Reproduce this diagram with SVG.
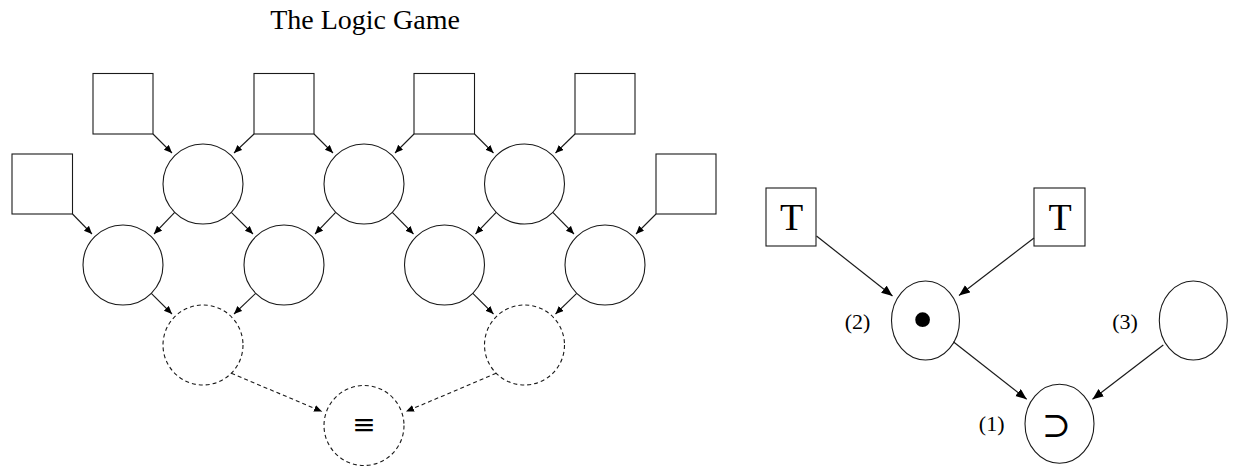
<svg xmlns="http://www.w3.org/2000/svg" width="1235" height="468" viewBox="0 0 1235 468">
<style>
.n{fill:none;stroke:#1a1a1a;stroke-width:1.1}
.d{fill:none;stroke:#1a1a1a;stroke-width:1.1;stroke-dasharray:4 3}
.e{stroke:#1a1a1a;stroke-width:1.1;fill:none;marker-end:url(#ah)}
.ed{stroke:#1a1a1a;stroke-width:1.1;fill:none;stroke-dasharray:4 3;marker-end:url(#ah)}
.eL{stroke:#1a1a1a;stroke-width:1.2;fill:none;marker-end:url(#ahL)}
.t{font-family:"Liberation Serif","DejaVu Serif",serif;fill:#000}
.s{font-family:"DejaVu Serif","Liberation Serif",serif;fill:#000}
</style>
<defs>
<marker id="ah" markerUnits="userSpaceOnUse" markerWidth="10" markerHeight="9" refX="8" refY="3.5" orient="auto"><path d="M0,0 L8,3.5 L0,7 Z" fill="#000"/></marker>
<marker id="ahL" markerUnits="userSpaceOnUse" markerWidth="13" markerHeight="11" refX="11" refY="4.5" orient="auto"><path d="M0,0 L11,4.5 L0,9 Z" fill="#000"/></marker>
</defs>
<rect width="1235" height="468" fill="#fff"/>
<text class="t" x="365" y="29" font-size="28" text-anchor="middle">The Logic Game</text>

<g id="sq1"><rect class="n" x="93" y="73.5" width="60" height="60.5"/></g>
<g id="sq2"><rect class="n" x="254" y="73.5" width="60" height="60.5"/></g>
<g id="sq3"><rect class="n" x="414" y="73.5" width="60.5" height="60.5"/></g>
<g id="sq4"><rect class="n" x="575" y="73.5" width="60" height="60.5"/></g>
<g id="sqL"><rect class="n" x="12" y="154" width="60.5" height="60"/></g>
<g id="sqR"><rect class="n" x="656" y="154" width="60" height="60"/></g>

<g id="c11"><circle class="n" cx="203" cy="184" r="40"/></g>
<g id="c12"><circle class="n" cx="364" cy="184" r="40"/></g>
<g id="c13"><circle class="n" cx="524.5" cy="184" r="40"/></g>
<g id="c21"><circle class="n" cx="123" cy="265" r="40"/></g>
<g id="c22"><circle class="n" cx="284" cy="265" r="40"/></g>
<g id="c23"><circle class="n" cx="444.5" cy="265" r="40"/></g>
<g id="c24"><circle class="n" cx="605" cy="265" r="40"/></g>
<g id="dc1"><circle class="d" cx="203" cy="345" r="40"/></g>
<g id="dc2"><circle class="d" cx="524.5" cy="345" r="40"/></g>
<g id="eqv"><circle class="d" cx="364" cy="425.5" r="40"/><text class="s" x="364" y="434" font-size="28" text-anchor="middle">≡</text></g>

<g id="rT1"><rect class="n" x="766" y="188" width="50" height="58"/><text class="t" x="791.5" y="230" font-size="38" text-anchor="middle">T</text></g>
<g id="rT2"><rect class="n" x="1034" y="188" width="51" height="58"/><text class="t" x="1060" y="230" font-size="38" text-anchor="middle">T</text></g>
<g id="r2"><ellipse class="n" cx="925.5" cy="320.5" rx="34" ry="39.5"/><text class="t" x="922.5" y="340" font-size="62" text-anchor="middle">•</text><text class="t" x="857.5" y="329" font-size="22" text-anchor="middle">(2)</text></g>
<g id="r3"><ellipse class="n" cx="1193.3" cy="320.5" rx="34" ry="39.5"/><text class="t" x="1125" y="329" font-size="22" text-anchor="middle">(3)</text></g>
<g id="r1"><ellipse class="n" cx="1059.5" cy="423.8" rx="34.5" ry="39.5"/><text class="s" x="1056.5" y="437" font-size="35" text-anchor="middle">⊃</text><text class="t" x="991.7" y="431" font-size="22" text-anchor="middle">(1)</text></g>

<g id="connectors">
<line class="e" x1="153" y1="134" x2="172" y2="153"/>
<line class="e" x1="254" y1="134" x2="234" y2="153"/>
<line class="e" x1="314" y1="134" x2="333" y2="153"/>
<line class="e" x1="414" y1="134" x2="395" y2="153"/>
<line class="e" x1="474.5" y1="134" x2="493.5" y2="153"/>
<line class="e" x1="575" y1="134" x2="555.5" y2="153"/>
<line class="e" x1="72.5" y1="214" x2="92" y2="234"/>
<line class="e" x1="656" y1="214" x2="636" y2="234"/>
<line class="e" x1="174.7" y1="212.3" x2="154" y2="234"/>
<line class="e" x1="231.3" y1="212.3" x2="253" y2="234"/>
<line class="e" x1="335.7" y1="212.3" x2="315" y2="234"/>
<line class="e" x1="392.3" y1="212.3" x2="413.5" y2="234"/>
<line class="e" x1="496.2" y1="212.3" x2="475.5" y2="234"/>
<line class="e" x1="552.8" y1="212.3" x2="574" y2="234"/>
<line class="e" x1="151.3" y1="293.3" x2="172" y2="314"/>
<line class="e" x1="255.7" y1="293.3" x2="234" y2="314"/>
<line class="e" x1="472.8" y1="293.3" x2="493.5" y2="314"/>
<line class="e" x1="576.7" y1="293.3" x2="555.5" y2="314"/>
<line class="ed" x1="231.3" y1="373.3" x2="322" y2="411.5"/>
<line class="ed" x1="496.2" y1="373.3" x2="406" y2="411.5"/>
<line class="eL" x1="816.5" y1="236" x2="892.5" y2="296"/>
<line class="eL" x1="1034" y1="238" x2="959" y2="295.5"/>
<line class="eL" x1="953.3" y1="341.7" x2="1026.7" y2="399.3"/>
<line class="eL" x1="1163.3" y1="345" x2="1092.5" y2="399.3"/>
</g>
</svg>
